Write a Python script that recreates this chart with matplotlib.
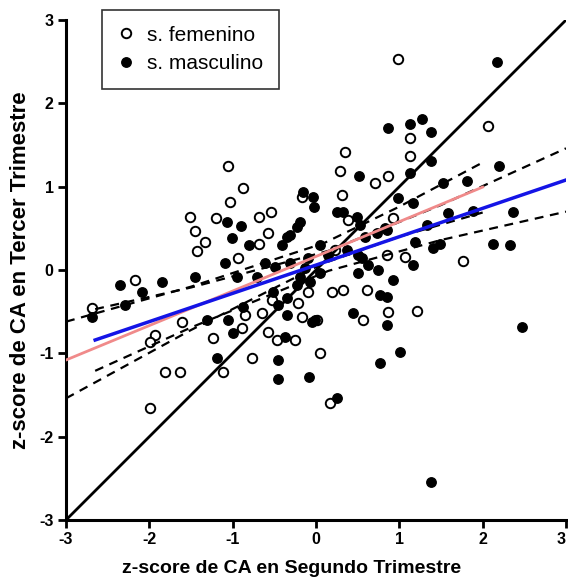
import numpy as np
import matplotlib
matplotlib.use('Agg')
import matplotlib.pyplot as plt
from matplotlib.lines import Line2D

# z-scores, sexo femenino (open circles)
fem_x = [0.98, 2.06, 1.13, 0.35, 1.13, 0.29, 0.86, 0.71, -1.06, -0.88, -1.03, -1.51,
         -1.20, -1.45, -1.33, -1.43, -0.68, -0.54, -0.17, 0.31, 0.38, -0.58, -0.68,
         -0.94, 0.23, 0.92, 0.85, 1.07, 1.76, -2.17, -2.69, -0.10, -0.22, -0.53, 0.19,
         0.32, 0.61, 0.86, 1.21, 0.56, -0.17, 0.01, -0.65, -0.89, -0.58, -0.47, -0.25,
         -1.24, -0.77, -1.12, 0.05, -1.93, -1.99, -1.81, -1.63, -1.61, -1.99, 0.17, -0.85]
fem_y = [2.53, 1.73, 1.58, 1.42, 1.37, 1.19, 1.13, 1.04, 1.25, 0.98, 0.82, 0.64,
         0.62, 0.47, 0.34, 0.23, 0.64, 0.70, 0.88, 0.90, 0.60, 0.44, 0.31,
         0.14, 0.24, 0.62, 0.18, 0.16, 0.11, -0.12, -0.46, -0.26, -0.40, -0.36, -0.26,
         -0.24, -0.24, -0.50, -0.49, -0.60, -0.56, -0.60, -0.52, -0.70, -0.74, -0.84, -0.84,
         -0.82, -1.06, -1.22, -1.00, -0.78, -0.86, -1.22, -1.22, -0.62, -1.66, -1.60, -0.54]

# z-scores, sexo masculino (filled circles)
mas_x = [2.17, 0.86, 1.13, 1.27, 1.38, 1.38, 2.20, 0.52, 1.13, 1.52, 1.81, 0.98, 1.16,
         1.58, 1.88, 2.36, 1.33, 0.83, 1.19, 1.40, 1.49, 2.12, 2.33, 1.16, -0.16, -0.04,
         -0.02, 0.25, 0.32, 0.49, -0.19, -0.23, -1.07, -0.90, -1.01, -0.80, -0.35, -0.41,
         0.05, -1.09, -0.61, -0.31, -0.10, -0.13, 0.14, 0.37, 0.50, 0.59, 0.73, 0.85, 0.53,
         -0.71, -0.49, -0.23, -0.07, 0.05, -0.35, -0.52, -0.46, -0.88, 0.50, 0.62, 0.74,
         0.92, 0.77, 0.85, 0.55, 0.44, -0.01, 0.85, 2.47, 1.01, 0.77, -0.08, -0.46, 0.25,
         1.38, -0.35, -0.05, -0.37, -1.19, -0.46, -1.00, -1.31, -1.06, -1.45, -2.35, -2.09,
         -1.85, -2.29, -2.69, -0.95, -0.19, -0.31]
mas_y = [2.50, 1.70, 1.75, 1.81, 1.66, 1.31, 1.25, 1.13, 1.16, 1.04, 1.07, 0.86, 0.80,
         0.68, 0.71, 0.70, 0.54, 0.50, 0.34, 0.26, 0.31, 0.31, 0.30, 0.06, 0.94, 0.88,
         0.76, 0.70, 0.70, 0.64, 0.58, 0.52, 0.58, 0.53, 0.38, 0.30, 0.40, 0.30,
         0.30, 0.08, 0.08, 0.08, 0.14, 0.02, 0.18, 0.24, 0.18, 0.40, 0.44, 0.48, 0.54,
         -0.08, 0.04, -0.18, -0.14, -0.04, -0.34, -0.26, -0.42, -0.44, -0.04, 0.06, 0.00,
         -0.12, -0.30, -0.32, 0.14, -0.52, -0.60, -0.66, -0.68, -0.98, -1.12, -1.28, -1.31, -1.54,
         -2.54, -0.54, -0.62, -0.80, -1.06, -1.08, -0.76, -0.60, -0.60, -0.08, -0.18, -0.26,
         -0.14, -0.42, -0.56, -0.08, -0.08, 0.42]

# regression line (blue) with 95% band
blue_x = [-2.65, -1.5, 0.15, 1.5, 3.0]
blue_y = [-0.84, -0.45, 0.11, 0.57, 1.08]
blue_hi = [-0.47, -0.21, 0.23, 0.78, 1.46]
blue_lo = [-1.21, -0.69, -0.01, 0.36, 0.70]

# regression line (pink) with 95% band
pink_x = [-3.0, -1.5, 0.09, 1.0, 2.0]
pink_y = [-1.08, -0.46, 0.20, 0.58, 0.995]
pink_hi = [-0.62, -0.20, 0.32, 0.76, 1.29]
pink_lo = [-1.54, -0.72, 0.08, 0.40, 0.69]

ident = [-3, 3]
ticks = [-3, -2, -1, 0, 1, 2, 3]

plt.rcParams['font.family'] = ['Liberation Sans', 'DejaVu Sans']
plt.rcParams['axes.unicode_minus'] = False

fig = plt.figure(figsize=(5.68, 5.85), dpi=100)
ax = fig.add_axes([66 / 568, 65 / 585, 500 / 568, 500 / 585])

ax.plot(fem_x, fem_y, 'o', ms=6.8, mfc='white', mec='black', mew=1.4, zorder=3)
ax.plot(mas_x, mas_y, 'o', ms=6.8, mfc='black', mec='black', mew=1.0, zorder=3)

ax.plot(ident, ident, color='black', lw=2.0, zorder=4)

dash = (0, (4, 3))
for lo, hi, xs in ((pink_lo, pink_hi, pink_x), (blue_lo, blue_hi, blue_x)):
    ax.plot(xs, lo, color='black', lw=1.6, ls=dash, zorder=4)
    ax.plot(xs, hi, color='black', lw=1.6, ls=dash, zorder=4)

ax.plot(pink_x, pink_y, color='#f08a8a', lw=2.0, zorder=5)
ax.plot(blue_x, blue_y, color='#1414e6', lw=2.5, zorder=5)

ax.set_xlim(-3, 3)
ax.set_ylim(-3, 3)
ax.set_xticks(ticks)
ax.set_yticks(ticks)
ax.spines['top'].set_visible(False)
ax.spines['right'].set_visible(False)
for s in ('left', 'bottom'):
    ax.spines[s].set_linewidth(2.2)
ax.tick_params(direction='out', length=6, width=2, labelsize=11.5, pad=3)
for lab in ax.get_xticklabels() + ax.get_yticklabels():
    lab.set_fontweight('bold')
# last x tick label sits on the figure edge
ax.get_xticklabels()[-1].set_horizontalalignment('right')

ax.set_xlabel('z-score de CA en Segundo Trimestre', fontsize=14, fontweight='bold')
ax.xaxis.set_label_coords(0.452, -0.08)
ax.set_ylabel('z-score de CA en Tercer Trimestre', fontsize=16, fontweight='bold', labelpad=6)

handles = [
    Line2D([], [], ls='none', marker='o', ms=6.8, mfc='white', mec='black', mew=1.4),
    Line2D([], [], ls='none', marker='o', ms=6.8, mfc='black', mec='black'),
]
leg = ax.legend(handles, ['s. femenino', 's. masculino'], loc='upper left',
                bbox_to_anchor=(102 / 568, 1 - 10 / 585), bbox_transform=fig.transFigure,
                borderaxespad=0, fontsize=15, frameon=True, fancybox=False,
                handlelength=0.8, handletextpad=0.6, borderpad=0.75, labelspacing=0.45)
leg.get_frame().set_edgecolor('black')
leg.get_frame().set_linewidth(1.2)

fig.savefig('out.png', dpi=100)
